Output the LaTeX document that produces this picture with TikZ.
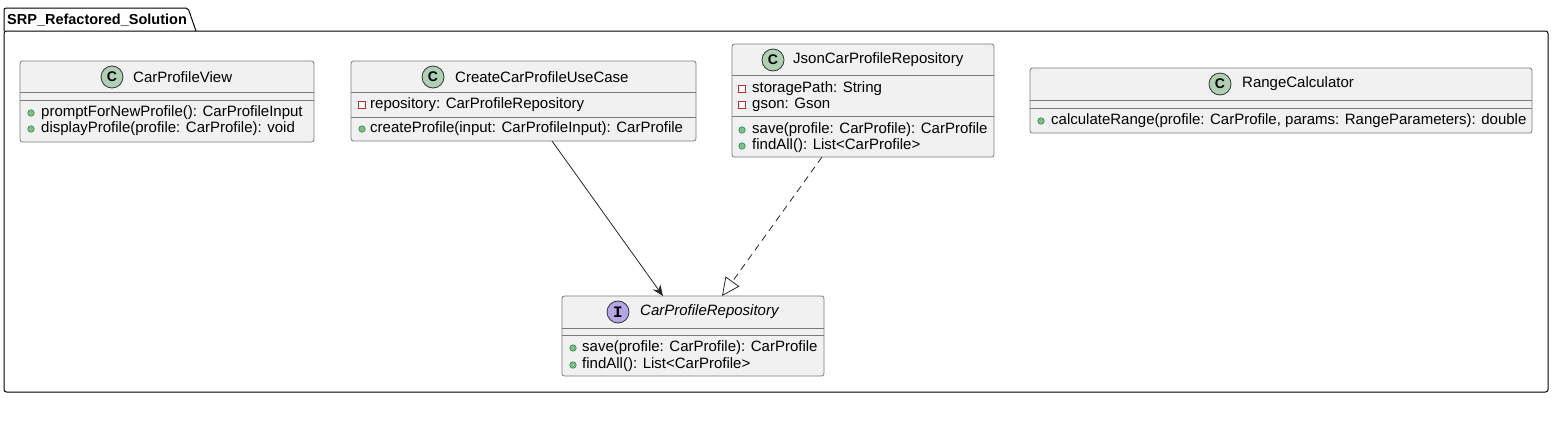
\documentclass[tikz,border=0pt]{standalone}
\usepackage{fontspec}
\setmainfont{Liberation Sans}
\newfontfamily\iconmono{Liberation Mono}
\usetikzlibrary{arrows.meta,positioning}
\definecolor{boxfill}{HTML}{F1F1F1}
\definecolor{boxline}{HTML}{7A7A7A}
\definecolor{cgreen}{HTML}{ADD1B2}
\definecolor{ipurple}{HTML}{B4A7E5}
\definecolor{pubfill}{HTML}{84BE84}
\definecolor{publine}{HTML}{038048}
\definecolor{privline}{HTML}{C82930}
\begin{document}
\begin{tikzpicture}[x=1pt,y=-1pt,
  classbox/.style={draw=boxline,fill=boxfill,line width=0.8pt,rounded corners=2.5pt,inner sep=0pt},
  sep/.style={draw=boxline,line width=0.8pt},
  cname/.style={font=\fontsize{15}{17}\selectfont,inner sep=0pt,anchor=west},
  member/.style={font=\fontsize{15}{17}\selectfont,inner sep=0pt,anchor=west},
  cicon/.style={circle,draw=black!80,line width=0.8pt,minimum size=22pt,inner sep=0pt,font=\fontsize{14}{14}\selectfont\bfseries},
  pub/.style={circle,draw=publine,fill=pubfill,line width=0.5pt,minimum size=6.5pt,inner sep=0pt},
  priv/.style={rectangle,draw=privline,fill=white,line width=0.8pt,minimum size=7pt,inner sep=0pt},
  pkg/.style={draw=black,line width=1pt},
  assoc/.style={draw=black!85,line width=0.8pt,-{Stealth[length=11pt,width=9pt,inset=3.5pt]}},
  realize/.style={draw=black!85,line width=0.8pt,dash pattern=on 7pt off 5pt,-{Triangle[open,length=18pt,width=17pt,fill=white]}}
]
\useasboundingbox (0,0) rectangle (1554,426);

% package
\draw[pkg,rounded corners=2pt] (4,31) -- (4,8) -- (188,8) -- (196,31);
\draw[pkg,rounded corners=2.5pt] (4,31) rectangle (1548,392);
\node[font=\fontsize{14.5}{16}\selectfont\bfseries,inner sep=0pt,anchor=west] (pkgname) at (7,20) {SRP\_Refactored\_Solution};

% CarProfileView
\node[classbox,minimum width=294pt,minimum height=81pt] (cpv) at (167,101.5) {};
\draw[sep] (cpv.west |- 0,92) -- (cpv.east |- 0,92);
\draw[sep] (cpv.west |- 0,100) -- (cpv.east |- 0,100);
\node[cname] (cpvN) at (133,77) {CarProfileView};
\node[cicon,fill=cgreen] (cpvC) at (112,77) {C};
\node[pub] (cpvm1i) at (31,113) {};
\node[member] (cpvm1) at (41,113) {promptForNewProfile(): CarProfileInput};
\node[pub] (cpvm2i) at (31,129) {};
\node[member] (cpvm2) at (41,129) {displayProfile(profile: CarProfile): void};

% CreateCarProfileUseCase
\node[classbox,minimum width=345pt,minimum height=80pt] (uc) at (523.5,101) {};
\draw[sep] (uc.west |- 0,92) -- (uc.east |- 0,92);
\draw[sep] (uc.west |- 0,117) -- (uc.east |- 0,117);
\node[cname] (ucN) at (455,77) {CreateCarProfileUseCase};
\node[cicon,fill=cgreen] (ucC) at (433,77) {C};
\node[priv] (uca1i) at (362,105) {};
\node[member] (uca1) at (370,105) {repository: CarProfileRepository};
\node[pub] (ucm1i) at (362,129) {};
\node[member] (ucm1) at (370,129) {createProfile(input: CarProfileInput): CarProfile};

% JsonCarProfileRepository
\node[classbox,minimum width=262pt,minimum height=113pt] (json) at (863,100.5) {};
\draw[sep] (json.west |- 0,75) -- (json.east |- 0,75);
\draw[sep] (json.west |- 0,116) -- (json.east |- 0,116);
\node[cname] (jsonN) at (793,60) {JsonCarProfileRepository};
\node[cicon,fill=cgreen] (jsonC) at (773,60) {C};
\node[priv] (jsona1i) at (742,89) {};
\node[member] (jsona1) at (752,89) {storagePath: String};
\node[priv] (jsona2i) at (742,105) {};
\node[member] (jsona2) at (752,105) {gson: Gson};
\node[pub] (jsonm1i) at (742,130) {};
\node[member] (jsonm1) at (752,130) {save(profile: CarProfile): CarProfile};
\node[pub] (jsonm2i) at (742,146) {};
\node[member] (jsonm2) at (752,146) {findAll(): List<CarProfile>};

% RangeCalculator
\node[classbox,minimum width=502pt,minimum height=65pt] (rc) at (1281,100.5) {};
\draw[sep] (rc.west |- 0,100) -- (rc.east |- 0,100);
\draw[sep] (rc.west |- 0,108) -- (rc.east |- 0,108);
\node[cname] (rcN) at (1242,84) {RangeCalculator};
\node[cicon,fill=cgreen] (rcC) at (1220,84) {C};
\node[pub] (rcm1i) at (1041,121) {};
\node[member] (rcm1) at (1051,121) {calculateRange(profile: CarProfile, params: RangeParameters): double};

% CarProfileRepository (interface)
\node[classbox,minimum width=262pt,minimum height=80pt] (repo) at (693,336) {};
\draw[sep] (repo.west |- 0,328) -- (repo.east |- 0,328);
\draw[sep] (repo.west |- 0,335) -- (repo.east |- 0,335);
\node[cname,font=\fontsize{15}{17}\selectfont\itshape] (repoN) at (640,312) {CarProfileRepository};
\node[cicon,fill=ipurple,font=\fontsize{16}{16}\selectfont\iconmono\bfseries] (repoC) at (618,312) {I};
\node[pub] (repom1i) at (573,348) {};
\node[member] (repom1) at (582,348) {save(profile: CarProfile): CarProfile};
\node[pub] (repom2i) at (573,365) {};
\node[member] (repom2) at (582,365) {findAll(): List<CarProfile>};

% connectors
\coordinate (ucOut) at (552,141);
\coordinate (repoIn1) at (663,296);
\coordinate (jsonOut) at (822,157);
\coordinate (repoIn2) at (722,296);
\draw[assoc] (ucOut) -- (repoIn1);
\draw[realize] (jsonOut) -- (repoIn2);
\end{tikzpicture}
\end{document}
